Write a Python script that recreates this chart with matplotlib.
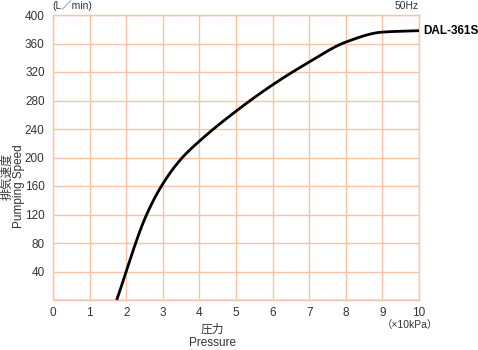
import numpy as np
import matplotlib.pyplot as plt

plt.rcParams['font.family'] = ['Liberation Sans', 'Noto Sans CJK JP']

# 曲線データ
pressure = [1.74, 2.55, 3.0, 3.5, 4.0, 5.0, 6.0, 7.0, 8.0, 9.0, 10.0]
speed = [0, 119, 163, 198, 223, 265, 302, 334, 362, 376, 378]
x_ticks = list(range(0, 11))
y_ticks = list(range(40, 401, 40))

GRID = '#f8c3a6'
TXT = '#333333'


def monotone_cubic(x, y, xn):
    # Fritsch-Carlson の単調3次補間
    x = np.asarray(x, float)
    y = np.asarray(y, float)
    h = np.diff(x)
    d = np.diff(y) / h
    m = np.zeros_like(y)
    m[0], m[-1] = d[0], d[-1]
    for i in range(1, len(y) - 1):
        if d[i - 1] * d[i] <= 0:
            m[i] = 0
        else:
            w1 = 2 * h[i] + h[i - 1]
            w2 = h[i] + 2 * h[i - 1]
            m[i] = (w1 + w2) / (w1 / d[i - 1] + w2 / d[i])
    idx = np.clip(np.searchsorted(x, xn) - 1, 0, len(x) - 2)
    t = (xn - x[idx]) / h[idx]
    h00 = 2 * t**3 - 3 * t**2 + 1
    h10 = t**3 - 2 * t**2 + t
    h01 = -2 * t**3 + 3 * t**2
    h11 = t**3 - t**2
    return h00 * y[idx] + h10 * h[idx] * m[idx] + h01 * y[idx + 1] + h11 * h[idx] * m[idx + 1]


fig = plt.figure(figsize=(4.78, 3.5), dpi=100)
ax = fig.add_axes([53 / 478, 50 / 350, 366 / 478, 285 / 350])

xs = np.linspace(pressure[0], pressure[-1], 500)
ys = monotone_cubic(pressure, speed, xs)
ax.plot(xs, ys, color='black', lw=2, solid_capstyle='butt', zorder=3, clip_on=False)

ax.set_xlim(0, 10)
ax.set_ylim(0, 400)
ax.set_xticks(x_ticks)
ax.set_yticks(y_ticks)
ax.grid(True, color=GRID, lw=1)
ax.axhline(0, color='#fbe0d3', lw=2, zorder=2)
for s in ax.spines.values():
    s.set_color(GRID)
    s.set_linewidth(1)
ax.tick_params(length=0, labelsize=8.5, colors=TXT, pad=6)
ax.tick_params(axis='x', pad=5)

fig.text(52 / 478, 1 - 6 / 350, '(L／min)', fontsize=7.5, color=TXT, va='center', ha='left')
fig.text(419 / 478, 1 - 6 / 350, '50Hz', fontsize=7.5, color=TXT, va='center', ha='right')
fig.text(423 / 478, 1 - 31 / 350, 'DAL-361S', fontsize=8.5, fontweight='bold',
         va='center', ha='left')
fig.text(410 / 478, 1 - 325 / 350, '（×10kPa）', fontsize=7.5, color=TXT, va='center',
         ha='center')
fig.text(212 / 478, 1 - 330 / 350, '圧力', fontsize=8.5, color=TXT, va='center', ha='center')
fig.text(212 / 478, 1 - 343 / 350, 'Pressure', fontsize=8.5, color=TXT, va='center', ha='center')
fig.text(7 / 478, 1 - 177 / 350, '排気速度', fontsize=8.5, color=TXT, va='center', ha='center',
         rotation=90)
fig.text(19 / 478, 1 - 186 / 350, 'Pumping Speed', fontsize=8.5, color=TXT, va='center',
         ha='center', rotation=90)

fig.savefig('out.png', dpi=100)
